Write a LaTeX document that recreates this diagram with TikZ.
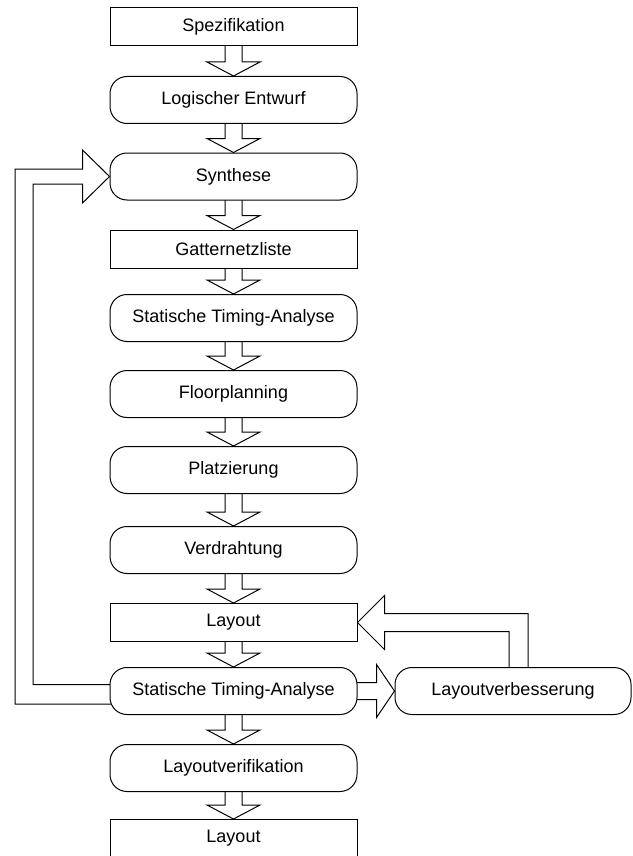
\documentclass[tikz,border=0pt]{standalone}
\usepackage{fontspec}
\setmainfont{Liberation Sans}
\usetikzlibrary{calc}
\pgfdeclarelayer{arrows}
\pgfsetlayers{arrows,main}

% hollow block arrow from the bottom of one stage to the top of the next
\newcommand\flowarrow[2]{%
  \draw[blockarrow] let \p1=(#1.south), \p2=(#2.north) in
    (\x1-8.5pt,\y1+2pt) -- (\x1-8.5pt,\y2+14pt) -- (\x1-26.5pt,\y2+14pt) -- (\x2,\y2)
    -- (\x1+26.5pt,\y2+14pt) -- (\x1+8.5pt,\y2+14pt) -- (\x1+8.5pt,\y1+2pt);}

\begin{document}
\begin{tikzpicture}[x=1pt,y=-1pt,
  every node/.style={font=\fontsize{18}{20}\selectfont},
  stage/.style={draw, line width=1pt, fill=white, inner sep=0pt,
                minimum width=247pt, anchor=north},
  plainbox/.style={stage, rectangle, minimum height=38pt},
  roundbox/.style={stage, rectangle, rounded corners=17pt, minimum height=47pt},
  blockarrow/.style={draw, line width=1pt, line join=miter, fill=white}]
\useasboundingbox (0,0) rectangle (632,856);

% design flow stages
\node[plainbox] (spez)  at (233.5,7.5)   {Spezifikation};
\node[roundbox] (entw)  at (233.5,76)    {Logischer Entwurf};
\node[roundbox] (synth) at (233.5,152.5) {Synthese};
\node[plainbox] (netz)  at (233.5,229.5) {Gatternetzliste};
\node[roundbox] (sta1)  at (233.5,294)   {Statische Timing-Analyse};
\node[roundbox] (floor) at (233.5,370)   {Floorplanning};
\node[roundbox] (place) at (233.5,446)   {Platzierung};
\node[roundbox] (route) at (233.5,526)   {Verdrahtung};
\node[plainbox] (lay1)  at (233.5,603)   {Layout};
\node[roundbox] (sta2)  at (233.5,667)   {Statische Timing-Analyse};
\node[roundbox] (verif) at (233.5,744)   {Layoutverifikation};
\node[plainbox] (lay2)  at (233.5,819)   {Layout};
\node[roundbox, minimum width=236pt] (improve) at (513,667) {Layoutverbesserung};

\begin{pgfonlayer}{arrows}
  \fill[white] (0,0) rectangle (632,856);

  % main flow
  \flowarrow{spez}{entw}
  \flowarrow{entw}{synth}
  \flowarrow{synth}{netz}
  \flowarrow{netz}{sta1}
  \flowarrow{sta1}{floor}
  \flowarrow{floor}{place}
  \flowarrow{place}{route}
  \flowarrow{route}{lay1}
  \flowarrow{lay1}{sta2}
  \flowarrow{sta2}{verif}
  \flowarrow{verif}{lay2}

  % feedback from timing analysis back to synthesis
  \draw[blockarrow] let \p1=(sta2.west), \p2=(synth.west) in
    (\x1+3pt,\y1+6.5pt) -- (33pt,\y1+6.5pt) -- (33pt,\y2-7.5pt)
    -- (\x2-27pt,\y2-7.5pt) -- (\x2-27pt,\y2-26.5pt) -- (\x2,\y2)
    -- (\x2-27pt,\y2+26.5pt) -- (\x2-27pt,\y2+7.5pt) -- (15pt,\y2+7.5pt)
    -- (15pt,\y1-13pt) -- (\x1+3pt,\y1-13pt);

  % timing analysis to layout improvement
  \draw[blockarrow] let \p1=(sta2.east), \p2=(improve.west) in
    (\x1-3pt,\y1+8.5pt) -- (\x2-18pt,\y1+8.5pt) -- (\x2-18pt,\y1+26.5pt)
    -- (\x2,\y2) -- (\x2-18pt,\y1-26.5pt) -- (\x2-18pt,\y1-8.5pt)
    -- (\x1-3pt,\y1-8.5pt);

  % improved layout fed back
  \draw[blockarrow] let \p1=(improve.north), \p2=(lay1.east) in
    (\x1-4pt,\y1-3pt) -- (\x1-4pt,\y2-9pt) -- (\x2+27pt,\y2-9pt)
    -- (\x2+27pt,\y2-27pt) -- (\x2,\y2) -- (\x2+27pt,\y2+27pt)
    -- (\x2+27pt,\y2+9pt) -- (\x1+15pt,\y2+9pt) -- (\x1+15pt,\y1-3pt);
\end{pgfonlayer}
\end{tikzpicture}
\end{document}
